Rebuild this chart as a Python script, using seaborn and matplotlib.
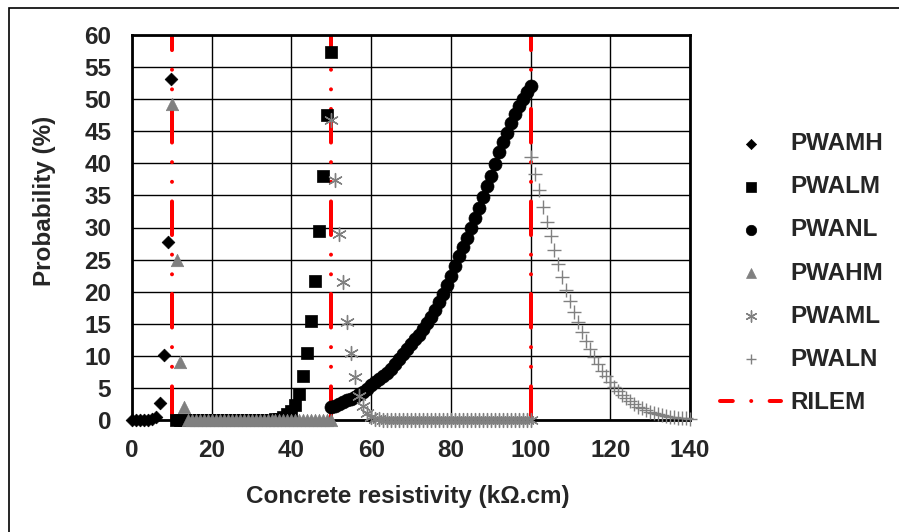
import matplotlib
matplotlib.use("Agg")
import matplotlib.pyplot as plt
from matplotlib.lines import Line2D
from matplotlib.patches import Rectangle
import seaborn as sns
import pandas as pd

# values
pwamh_x = [0, 1, 2, 3, 4, 5, 5.9, 6.9, 8.0, 9.0, 9.8]
pwamh_y = [0, 0, 0, 0, 0, 0.1, 0.5, 2.7, 10.2, 27.8, 53.2]

pwalm_x = list(range(11, 51))
pwalm_y = [0, 0, 0, 0, 0, 0, 0, 0, 0, 0,
           0, 0, 0, 0, 0, 0, 0, 0, 0, 0,
           0, 0, 0, 0, 0, 0.1, 0.2, 0.4, 0.9, 1.4,
           2.4, 4.1, 6.8, 10.5, 15.4, 21.7, 29.5, 38.1, 47.5, 57.4]

pwanl_x = list(range(50, 101))
pwanl_y = [2.0, 2.2, 2.5, 2.8, 3.1, 3.3, 3.6, 4.0, 4.4, 4.9,
           5.4, 5.9, 6.4, 6.9, 7.4, 8.0, 8.7, 9.5, 10.3, 11.0,
           11.8, 12.6, 13.3, 14.2, 15.1, 16.1, 17.2, 18.4, 19.7, 21.0,
           22.5, 24.0, 25.5, 27.0, 28.4, 29.9, 31.5, 33.1, 34.7, 36.4,
           38.1, 39.9, 41.7, 43.3, 44.8, 46.3, 47.7, 49.0, 50.1, 51.1,
           52.0]

pwahm_x = [10, 11.2, 12, 13] + list(range(14, 51))
pwahm_y = [49.3, 24.9, 9.1, 2.1,
           0, 0, 0, 0, 0, 0, 0, 0, 0, 0,
           0, 0, 0, 0, 0, 0, 0, 0, 0, 0,
           0, 0, 0, 0, 0, 0, 0, 0, 0, 0,
           0, 0, 0, 0, 0, 0, 0]

pwaml_x = list(range(50, 101))
pwaml_y = [46.8, 37.4, 29.0, 21.5, 15.2, 10.4, 6.7, 3.7, 2.2, 1.1,
           0.5, 0.2, 0.1, 0, 0, 0, 0, 0, 0, 0,
           0, 0, 0, 0, 0, 0, 0, 0, 0, 0,
           0, 0, 0, 0, 0, 0, 0, 0, 0, 0,
           0, 0, 0, 0, 0, 0, 0, 0, 0, 0,
           0]

pwaln_x = list(range(100, 141))
pwaln_y = [41.0, 38.4, 35.8, 33.2, 30.9, 28.6, 26.5, 24.3, 22.3, 20.3,
           18.5, 16.8, 15.2, 13.7, 12.3, 11.0, 9.8, 8.7, 7.7, 6.8,
           6.0, 5.2, 4.5, 3.9, 3.4, 2.9, 2.5, 2.1, 1.8, 1.5,
           1.3, 1.1, 0.9, 0.8, 0.6, 0.5, 0.4, 0.35, 0.3, 0.25,
           0.2]

rilem_x = [10, 50, 100]
y_range = [0, 60]

x_ticks = [0, 20, 40, 60, 80, 100, 120, 140]
y_ticks = [0, 5, 10, 15, 20, 25, 30, 35, 40, 45, 50, 55, 60]

GRAY = "#808080"
PX = 0.72  # points per pixel at 100 dpi

sns.set_theme(style="white")
plt.rcParams["font.family"] = ["Liberation Sans", "DejaVu Sans"]
plt.rcParams["font.weight"] = "bold"
FS = 17.5

fig = plt.figure(figsize=(8.99, 5.32), dpi=100)
ax = fig.add_axes([132 / 899, 112 / 532, 558 / 899, 385 / 532])

# RILEM limits as three vertical dash-dot-dot lines
rilem = pd.DataFrame({
    "x": [v for v in rilem_x for _ in y_range],
    "y": y_range * len(rilem_x),
    "line": [i for i in range(len(rilem_x)) for _ in y_range],
})
sns.lineplot(data=rilem, x="x", y="y", units="line", estimator=None, sort=False,
             color="red", lw=4 * PX, linestyle=(0, (8.4, 4.9, 0.01, 4.9, 0.01, 4.9)),
             dash_capstyle="round", legend=False, ax=ax, zorder=2)

series = [
    ("PWAMH", pwamh_x, pwamh_y, dict(marker="D", s=42, color="black", edgecolor="black", linewidth=0.5)),
    ("PWALM", pwalm_x, pwalm_y, dict(marker="s", s=80, color="black", edgecolor="black", linewidth=0.5)),
    ("PWANL", pwanl_x, pwanl_y, dict(marker="o", s=88, color="black", edgecolor="black", linewidth=0.5)),
    ("PWAHM", pwahm_x, pwahm_y, dict(marker="^", s=80, color=GRAY, edgecolor=GRAY, linewidth=0.5)),
    ("PWAML", pwaml_x, pwaml_y, dict(marker=(6, 2, 0), s=100, color=GRAY, linewidth=1.0)),
    ("PWALN", pwaln_x, pwaln_y, dict(marker="+", s=90, color=GRAY, linewidth=1.0)),
]
for name, xs, ys, kw in series:
    sns.scatterplot(x=xs, y=ys, label=name, ax=ax, zorder=3, clip_on=False, legend=False, **kw)

ax.set_xlim(0, 140)
ax.set_ylim(0, 60)
ax.set_xticks(x_ticks)
ax.set_yticks(y_ticks)
ax.tick_params(axis="both", length=0, labelsize=FS)
ax.tick_params(axis="x", pad=14)
ax.tick_params(axis="y", pad=15)
for lab in ax.get_xticklabels() + ax.get_yticklabels():
    lab.set_fontweight("bold")

ax.grid(True, color="black", linewidth=1.0)
ax.set_axisbelow(True)
for sp in ax.spines.values():
    sp.set_color("black")
    sp.set_linewidth(2.0)

ax.set_xlabel("Concrete resistivity (kΩ.cm)", fontsize=FS, fontweight="bold")
ax.set_ylabel("Probability (%)", fontsize=FS, fontweight="bold")
ax.xaxis.set_label_coords(0.495, -0.168)
ax.yaxis.set_label_coords(-0.136, 0.569)

handles, labels = ax.get_legend_handles_labels()
seen = {}
for h, l in zip(handles, labels):
    if l in [s[0] for s in series] and l not in seen:
        seen[l] = h
rilem_handle = Line2D([], [], color="red", lw=4 * PX,
                      linestyle=(0, (3.2, 4.6, 0.01, 4.6)), dash_capstyle="round")
leg_handles = [seen[s[0]] for s in series] + [rilem_handle]
leg_labels = [s[0] for s in series] + ["RILEM"]
ax.legend(leg_handles, leg_labels, loc="upper left",
          bbox_to_anchor=(720 / 899, 1 - 132 / 532), bbox_transform=fig.transFigure,
          frameon=False, borderpad=0, borderaxespad=0, scatterpoints=1, markerscale=0.8,
          handlelength=2.51, handletextpad=0.39, labelspacing=0.83,
          prop={"size": FS, "weight": "bold"})

# chart-area border (only top and left edges are inside the picture)
fig.add_artist(Rectangle((9 / 899, -0.5), 2, 0.5 + 1 - 8 / 532, fill=False,
                         edgecolor="black", linewidth=1.2, transform=fig.transFigure,
                         clip_on=False))

fig.savefig("out.png", dpi=100)
